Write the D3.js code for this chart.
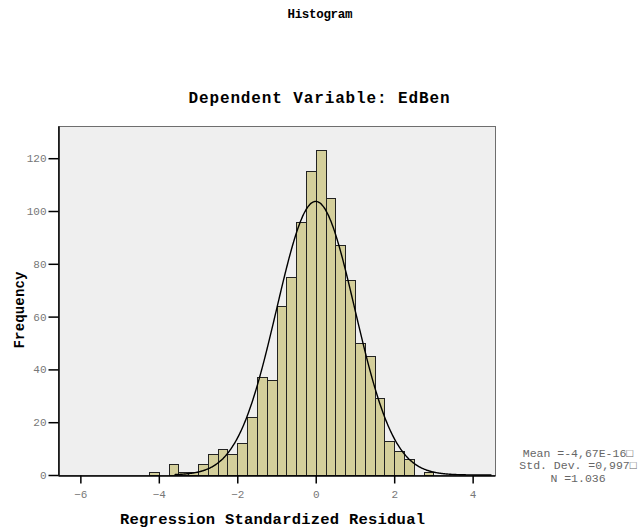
<!DOCTYPE html>
<html>
<head>
<meta charset="utf-8">
<script src="https://cdn.jsdelivr.net/npm/d3@7"></script>
<style>
  body { margin: 0; background: #fff; }
  svg text { font-family: "Liberation Mono", "DejaVu Sans Mono", monospace; }
</style>
</head>
<body>
<div id="hist"></div>
<script>
// lower edge of each 0.25-wide bin and its frequency
const binStarts = [-4.25, -4, -3.75, -3.5, -3.25, -3, -2.75, -2.5, -2.25, -2, -1.75, -1.5, -1.25,
  -1, -0.75, -0.5, -0.25, 0, 0.25, 0.5, 0.75, 1, 1.25, 1.5, 1.75, 2, 2.25, 2.5, 2.75];
const counts = [1, 0, 4, 1, 1, 4, 8, 10, 8, 12, 22, 37, 36,
  64, 75, 96, 115, 123, 105, 87, 74, 50, 45, 29, 13, 9, 6, 0, 1];
const binWidth = 0.25;

const xTicks = [-6, -4, -2, 0, 2, 4];
const yTicks = [0, 20, 40, 60, 80, 100, 120];

// summary stats shown in the legend
const statMean = -4.67e-16, statSd = 0.997, statN = 1036;
const statLabels = ["Mean =-4,67E-16\u25A1", "Std. Dev. =0,997\u25A1", "N =1.036"];

drawHistogram();

function drawHistogram() {
  let W = 638, H = 529;
  let left = 58, right = 495, top = 126, bottom = 475;

  let svg = d3.select("#hist")
    .append("svg")
    .attr("width", W)
    .attr("height", H);

  let x = d3.scaleLinear().domain([-6.57, 4.57]).range([left, right]);
  let y = d3.scaleLinear().domain([0, 132.2]).range([bottom, top]);

  // titles
  svg.append("text")
    .attr("x", 320).attr("y", 18)
    .attr("text-anchor", "middle")
    .attr("textLength", 65).attr("lengthAdjust", "spacing")
    .style("font-size", "12.5px").style("font-weight", "bold")
    .text("Histogram");

  svg.append("text")
    .attr("x", 319).attr("y", 103)
    .attr("text-anchor", "middle")
    .attr("textLength", 261).attr("lengthAdjust", "spacing")
    .style("font-size", "16px").style("font-weight", "bold")
    .text("Dependent Variable: EdBen");

  // plot background
  svg.append("rect")
    .attr("x", left + 0.5).attr("y", top + 0.5)
    .attr("width", right - left).attr("height", bottom - top)
    .attr("fill", "#efefef")
    .attr("stroke", "#6e6e6e");

  // bars
  let bins = binStarts.map((b, i) => ({x0: b, x1: b + binWidth, n: counts[i]}))
    .filter(d => d.n > 0);
  svg.append("g").selectAll("rect")
    .data(bins)
    .enter()
    .append("rect")
    .attr("x", d => Math.round(x(d.x0)) + 0.5)
    .attr("y", d => Math.round(y(d.n)) + 0.5)
    .attr("width", d => Math.round(x(d.x1)) - Math.round(x(d.x0)))
    .attr("height", d => Math.round(y(0)) - Math.round(y(d.n)))
    .attr("fill", "#d4cf9b")
    .attr("stroke", "#222")
    .attr("stroke-width", 1);

  // normal curve from the legend stats
  let scale = statN * binWidth / (statSd * Math.sqrt(2 * Math.PI));
  let pts = d3.range(-3.6, 4.5, 0.02).map(v => [v, scale * Math.exp(-0.5 * Math.pow((v - statMean) / statSd, 2))]);
  svg.append("path")
    .datum(pts)
    .attr("fill", "none")
    .attr("stroke", "#000")
    .attr("stroke-width", 1.4)
    .attr("d", d3.line().x(d => x(d[0])).y(d => y(d[1])).curve(d3.curveBasis));

  // Y axis
  let gy = svg.append("g")
    .attr("transform", "translate(" + (left + 0.5) + ",0)")
    .call(d3.axisLeft(y).tickValues(yTicks).tickSize(10).tickSizeOuter(0).tickPadding(2));
  gy.select(".domain").attr("stroke", "#000").attr("stroke-width", 1.5);
  gy.selectAll(".tick line").attr("stroke", "#000").attr("stroke-width", 1.5);
  gy.selectAll("text").attr("fill", "#777").style("font-size", "11px");

  // X axis
  let gx = svg.append("g")
    .attr("transform", "translate(0," + (bottom + 0.5) + ")")
    .call(d3.axisBottom(x).tickValues(xTicks).tickSize(8).tickSizeOuter(0).tickPadding(7));
  gx.select(".domain").attr("stroke", "#000").attr("stroke-width", 1.5);
  gx.selectAll(".tick line").attr("stroke", "#000").attr("stroke-width", 1.5);
  gx.selectAll("text").attr("fill", "#777").style("font-size", "11px");

  // axis titles
  svg.append("text")
    .attr("x", 272.5).attr("y", 524)
    .attr("text-anchor", "middle")
    .attr("textLength", 305).attr("lengthAdjust", "spacing")
    .style("font-size", "15.5px").style("font-weight", "bold")
    .text("Regression Standardized Residual");

  svg.append("text")
    .attr("transform", "translate(24,310) rotate(-90)")
    .attr("text-anchor", "middle")
    .attr("textLength", 77).attr("lengthAdjust", "spacing")
    .style("font-size", "14px").style("font-weight", "bold")
    .text("Frequency");

  // legend stats
  svg.append("g").selectAll("text")
    .data(statLabels)
    .enter()
    .append("text")
    .attr("x", 578)
    .attr("y", (d, i) => 457 + i * 12.3)
    .attr("text-anchor", "middle")
    .attr("fill", "#666")
    .style("font-size", "11.5px")
    .text(d => d);
}
</script>
</body>
</html>
